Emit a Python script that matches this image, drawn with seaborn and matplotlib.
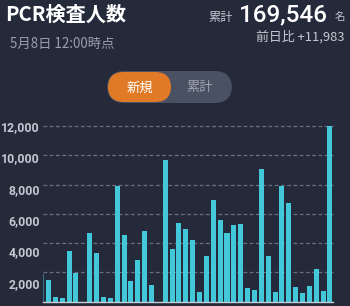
import matplotlib
matplotlib.use("Agg")
import matplotlib.pyplot as plt
import seaborn as sns
import pandas as pd
from matplotlib.patches import FancyBboxPatch

# ---- data ----
dates = ["3/27", "3/28", "3/29", "3/30", "3/31", "4/1", "4/2", "4/3", "4/4", "4/5",
         "4/6", "4/7", "4/8", "4/9", "4/10", "4/11", "4/12", "4/13", "4/14", "4/15",
         "4/16", "4/17", "4/18", "4/19", "4/20", "4/21", "4/22", "4/23", "4/24", "4/25",
         "4/26", "4/27", "4/28", "4/29", "4/30", "5/1", "5/2", "5/3", "5/4", "5/5",
         "5/6", "5/7", "5/8"]
tests = [1850, 1452, 308, 219, 3480, 1930, 0, 4670, 3300, 288,
         219, 7865, 4535, 1384, 2843, 4850, 1151, 0, 9645, 3617,
         5377, 4966, 4233, 651, 3117, 6974, 5583, 4670, 5240, 5309,
         925, 808, 9076, 3117, 651, 7891, 6768, 1014, 562, 1062,
         2206, 699, 11983]
ytick_values = [2000, 4000, 6000, 8000, 10000, 12000]
ytick_labels = ["2,000", "4,000", "6,000", "8,000", "10,000", "12,000"]
title = "PCR検査人数"
subtitle = "5月8日 12:00時点"
total_label = "累計"
total_value = "169,546"
total_unit = "名"
diff_text = "前日比 +11,983"
toggle_labels = ["新規", "累計"]

BG = "#252a3b"
BAR = "#42c8d8"
FONT = ["Noto Sans CJK JP", "DejaVu Sans"]

sns.set_theme(style="dark")
plt.rcParams["font.family"] = FONT

W, H = 350, 306
fig = plt.figure(figsize=(W / 100, H / 100), dpi=100, facecolor=BG)

def fx(px):
    return px / W

def fy(py):
    return 1 - py / H

# main axes
ax_l, ax_r, ax_t, ax_b = 43, 333, 126, 301.5
ax = fig.add_axes([fx(ax_l), fy(ax_b), fx(ax_r - ax_l), (ax_b - ax_t) / H])
ax.set_facecolor(BG)
df = pd.DataFrame({"date": dates, "tests": tests})
sns.barplot(data=df, x="date", y="tests", color=BAR, saturation=1, width=0.73,
            linewidth=0, edgecolor="none", ax=ax)
ax.patches[0].set_alpha(0.45)
ax.set_xlim(0.2, len(dates) - 1 + 0.44)
ax.set_ylim(0, 12000)
ax.set_yticks(ytick_values)
ax.set_yticklabels([])
ax.set_xticks([])
ax.set_xlabel("")
ax.set_ylabel("")
ax.tick_params(left=False, bottom=False, length=0)
ax.grid(False)
for v in ytick_values:
    ax.axhline(v, color="#6a6f80", lw=0.9, ls=(0, (3, 2)), zorder=0, clip_on=False)
for s in ["top", "right", "left"]:
    ax.spines[s].set_visible(False)
ax.spines["bottom"].set_color("#c8ccd4")
ax.spines["bottom"].set_linewidth(1.0)

# y labels overlay (positioned like the reference)
lab = fig.add_axes(ax.get_position(), frameon=False)
lab.set_ylim(822, 12000)
lab.set_xlim(0, 1)
lab.set_xticks([])
lab.set_yticks(ytick_values)
lab.set_yticklabels(ytick_labels, color="#c4c8d0", fontsize=8.8, fontweight="bold",
                    family=["Roboto", "DejaVu Sans"])
lab.tick_params(left=False, length=0, pad=2.2)
lab.patch.set_visible(False)

# header texts
fig.text(fx(5), fy(14), title, color="white", fontsize=14.5, fontweight="bold",
         va="center", ha="left")
fig.text(fx(10), fy(44), subtitle, color="#9a9ea8", fontsize=9.6, va="center", ha="left")
fig.text(fx(233), fy(17), total_label, color="#c4c8d0", fontsize=8.8, va="center", ha="right")
fig.text(fx(239), fy(15), total_value, color="white", fontsize=17.5, va="center", ha="left",
         family=["Roboto", "DejaVu Sans"], fontweight="medium")
fig.text(fx(345), fy(17), total_unit, color="#c4c8d0", fontsize=7.5, va="center", ha="right")
fig.text(fx(345), fy(37), diff_text, color="#c4c8d0", fontsize=9.3, va="center", ha="right")

# toggle
pill = FancyBboxPatch((fx(107), fy(103)), fx(232 - 107), (103 - 71) / H,
                      boxstyle="round,pad=0,rounding_size=0.05", transform=fig.transFigure,
                      facecolor="#4a5163", edgecolor="none", mutation_aspect=W / H)
fig.patches.append(pill)
on = FancyBboxPatch((fx(108), fy(102)), fx(171 - 108), (102 - 72) / H,
                    boxstyle="round,pad=0,rounding_size=0.045", transform=fig.transFigure,
                    facecolor="#e07a26", edgecolor="none", mutation_aspect=W / H)
fig.patches.append(on)
fig.text(fx(140), fy(88), toggle_labels[0], color="white", fontsize=9.5, va="center", ha="center")
fig.text(fx(200), fy(88), toggle_labels[1], color="#a0a5b0", fontsize=9.5, va="center", ha="center")

fig.savefig("out.png", dpi=100, facecolor=BG)
